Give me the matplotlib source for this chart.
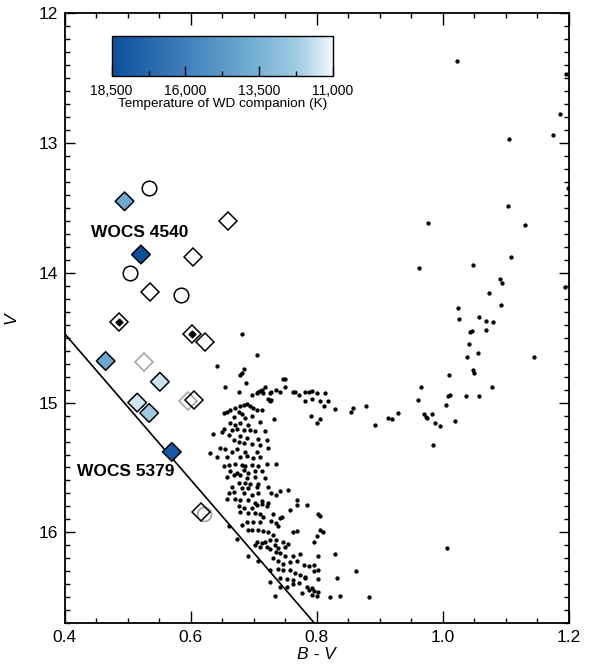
import matplotlib
matplotlib.use('Agg')
import matplotlib.pyplot as plt
from matplotlib.colors import LinearSegmentedColormap, Normalize
from matplotlib.cm import ScalarMappable
from matplotlib.ticker import MultipleLocator

plt.rcParams['font.family'] = ['Liberation Sans', 'DejaVu Sans']

# Cluster members (B-V, V)
field_bv = [
    0.682, 0.705, 0.642, 0.684, 0.681, 0.678, 0.687, 0.654, 0.750, 0.746, 0.676, 0.705,
    0.707, 0.710, 0.713, 0.718, 0.715, 0.697, 0.726, 0.728, 0.736, 0.742, 0.749, 0.763,
    0.765, 0.771, 0.781, 0.787, 0.793, 0.800, 0.813, 0.723, 0.726, 0.728, 0.781, 0.793,
    0.805, 0.818, 0.812, 0.829, 0.857, 0.855, 0.878, 0.913, 0.892, 0.790, 0.805, 0.801,
    0.732,
    # main sequence
    0.652, 0.657, 0.662, 0.670, 0.678, 0.684, 0.689, 0.694, 0.699, 0.705, 0.713, 0.676,
    0.681, 0.668, 0.686, 0.697, 0.662, 0.670, 0.678, 0.691, 0.710, 0.652, 0.665, 0.673,
    0.684, 0.694, 0.702, 0.718, 0.636, 0.649, 0.660, 0.678, 0.689, 0.707, 0.668, 0.676,
    0.684, 0.697, 0.721, 0.710, 0.647, 0.654, 0.665, 0.673, 0.686, 0.705, 0.723, 0.631,
    0.641, 0.657, 0.678, 0.689, 0.699, 0.710, 0.652, 0.660, 0.670, 0.681, 0.686, 0.697,
    0.707, 0.721, 0.736, 0.662, 0.673, 0.684, 0.691, 0.702, 0.713, 0.657, 0.668, 0.678,
    0.689, 0.702, 0.718, 0.676, 0.686, 0.694, 0.707, 0.665, 0.681, 0.691, 0.705, 0.723,
    0.660, 0.668, 0.684, 0.697, 0.707, 0.728, 0.736, 0.755, 0.657, 0.670, 0.678, 0.691,
    0.702, 0.713, 0.723, 0.742, 0.676, 0.684, 0.697, 0.705, 0.713, 0.721, 0.768, 0.768,
    0.784, 0.678, 0.691, 0.702, 0.710, 0.715, 0.731, 0.744, 0.758, 0.802, 0.805, 0.660,
    0.681, 0.689, 0.699, 0.710, 0.728, 0.736, 0.739, 0.742, 0.691, 0.697, 0.707, 0.715,
    0.723, 0.731, 0.763, 0.768, 0.805, 0.810, 0.800, 0.673, 0.705, 0.713, 0.718, 0.726,
    0.736, 0.747, 0.755, 0.795, 0.702, 0.710, 0.721, 0.734, 0.739, 0.750, 0.691, 0.707,
    0.726, 0.736, 0.742, 0.750, 0.763, 0.773, 0.802, 0.829, 0.731, 0.739, 0.747, 0.758,
    0.768, 0.779, 0.787, 0.795, 0.726, 0.739, 0.747, 0.758, 0.766, 0.773, 0.781, 0.795,
    0.802, 0.862, 0.726, 0.742, 0.752, 0.763, 0.771, 0.781, 0.784, 0.792, 0.802, 0.832,
    0.734, 0.742, 0.752, 0.763, 0.787, 0.795, 0.792, 0.800, 0.802, 0.821, 0.837, 0.883,
    0.776,
    # subgiants and giants
    0.929, 0.919, 0.961, 0.965, 0.970, 0.973, 0.974, 0.982, 0.988, 0.996, 0.984, 1.005,
    1.008, 1.012, 1.009, 1.019, 1.036, 1.057, 1.078, 1.024, 1.026, 1.092, 1.057, 1.068,
    1.079, 1.046, 1.043, 1.068, 1.041, 1.039, 1.056, 1.048, 1.050, 1.145, 1.007,
    1.023, 1.105, 1.175, 1.185, 1.195, 1.199, 1.104, 1.130, 0.976, 0.962, 1.047, 1.108,
    1.090, 1.094, 1.073, 1.193,
]
field_v = [
    14.47, 14.63, 14.72, 14.74, 14.77, 14.79, 14.85, 14.88, 14.82, 14.82, 14.92, 14.93,
    14.92, 14.91, 14.90, 14.88, 14.93, 14.94, 14.93, 14.92, 14.90, 14.92, 14.88, 14.92,
    14.92, 14.94, 14.92, 14.92, 14.91, 14.93, 14.93, 14.97, 14.99, 14.98, 14.99, 14.97,
    14.99, 14.99, 15.03, 15.05, 15.04, 15.07, 15.03, 15.12, 15.17, 15.10, 15.13, 15.16,
    15.13,
    15.08, 15.07, 15.06, 15.04, 15.03, 15.02, 15.01, 15.03, 15.04, 15.06, 15.06, 15.07,
    15.09, 15.11, 15.12, 15.10, 15.16, 15.17, 15.16, 15.17, 15.15, 15.20, 15.21, 15.20,
    15.21, 15.21, 15.22, 15.22, 15.24, 15.23, 15.25, 15.26, 15.27, 15.28, 15.29, 15.30,
    15.31, 15.32, 15.29, 15.33, 15.35, 15.36, 15.38, 15.36, 15.38, 15.38, 15.35, 15.39,
    15.42, 15.42, 15.42, 15.41, 15.43, 15.42, 15.49, 15.48, 15.47, 15.48, 15.49, 15.48,
    15.49, 15.47, 15.47, 15.53, 15.54, 15.52, 15.54, 15.53, 15.53, 15.57, 15.56, 15.56,
    15.58, 15.57, 15.58, 15.62, 15.62, 15.63, 15.63, 15.65, 15.66, 15.66, 15.65, 15.65,
    15.70, 15.69, 15.70, 15.71, 15.70, 15.70, 15.71, 15.67, 15.74, 15.74, 15.75, 15.75,
    15.77, 15.76, 15.77, 15.68, 15.80, 15.81, 15.81, 15.79, 15.78, 15.80, 15.75, 15.79,
    15.79, 15.84, 15.85, 15.85, 15.86, 15.88, 15.86, 15.88, 15.83, 15.86, 15.87, 15.95,
    15.94, 15.92, 15.92, 15.92, 15.91, 15.93, 15.95, 15.89, 15.98, 15.98, 15.98, 15.99,
    16.00, 16.02, 16.00, 15.99, 15.98, 16.00, 16.03, 16.05, 16.07, 16.08, 16.07, 16.06,
    16.06, 16.07, 16.09, 16.07, 16.10, 16.11, 16.11, 16.10, 16.12, 16.11, 16.18, 16.22,
    16.13, 16.15, 16.16, 16.18, 16.18, 16.17, 16.18, 16.17, 16.20, 16.22, 16.24, 16.23,
    16.22, 16.25, 16.26, 16.25, 16.29, 16.28, 16.29, 16.29, 16.31, 16.33, 16.34, 16.30,
    16.29, 16.30, 16.38, 16.35, 16.36, 16.37, 16.39, 16.35, 16.42, 16.43, 16.36, 16.35,
    16.49, 16.42, 16.42, 16.40, 16.44, 16.45, 16.48, 16.49, 16.46, 16.50, 16.49, 16.50,
    16.47,
    15.08, 15.13, 14.98, 14.88, 15.09, 15.11, 15.12, 15.09, 15.16, 15.18, 15.33, 15.02,
    14.95, 14.94, 14.79, 15.14, 14.95, 14.95, 14.88, 14.27, 14.36, 14.25, 14.34, 14.37,
    14.38, 14.45, 14.46, 14.44, 14.55, 14.65, 14.62, 14.75, 14.77, 14.65, 16.12,
    12.37, 12.97, 12.94, 12.78, 12.47, 13.35, 13.49, 13.63, 13.62, 13.96, 13.94, 13.88,
    14.05, 14.08, 14.16, 14.11,
]

# Blue stragglers with a WD companion, coloured by WD temperature
wd_bv = [0.495, 0.521, 0.465, 0.551, 0.515, 0.534, 0.570]
wd_v = [13.45, 13.86, 14.68, 14.84, 15.00, 15.08, 15.38]
wd_temp = [14000, 18500, 14000, 11600, 11500, 12300, 18000]

# Other blue stragglers
open_bv = [0.659, 0.604, 0.535, 0.622, 0.605, 0.616]
open_v = [13.60, 13.88, 14.15, 14.53, 14.98, 15.84]
dot_bv = [0.486, 0.602]
dot_v = [14.38, 14.47]
gray_bv = [0.526, 0.596]
gray_v = [14.69, 14.99]
circ_bv = [0.534, 0.503, 0.584]
circ_v = [13.35, 14.00, 14.17]
gcirc_bv = [0.621]
gcirc_v = [15.86]

# ZAMS-like line
line_bv = [0.40, 0.80]
line_v = [14.47, 16.72]

cbar_ticks = [18500, 16000, 13500, 11000]
cbar_labels = ['18,500', '16,000', '13,500', '11,000']

cmap = LinearSegmentedColormap.from_list(
    'wd', [(0.0, '#f3f8fc'), (0.15, '#a3cde3'), (0.333, '#78b2d6'),
           (0.667, '#3f7fbb'), (1.0, '#0b4f9c')])
norm = Normalize(vmin=11000, vmax=18500)

fig = plt.figure(figsize=(5.89, 6.67), dpi=100)
ax = fig.add_axes([0.1098, 0.0655, 0.8562, 0.915])

ax.plot(field_bv, field_v, 'o', ms=3.1, color='black', mec='none', zorder=2)
ax.plot(line_bv, line_v, '-', color='black', lw=1.2, zorder=1)

ax.plot(gcirc_bv, gcirc_v, 'o', ms=10, mfc='none', mec='#a0a0a0', mew=1.2, zorder=3)
ax.plot(gray_bv, gray_v, 'D', ms=9, mfc='none', mec='#a8a8a8', mew=1.2, zorder=3)
ax.plot(circ_bv, circ_v, 'o', ms=10.5, mfc='white', mec='black', mew=1.1, zorder=4)
ax.plot(open_bv, open_v, 'D', ms=9, mfc='none', mec='black', mew=1.1, zorder=4)
ax.plot(dot_bv, dot_v, 'D', ms=9, mfc='white', mec='black', mew=1.1, zorder=4)
ax.plot(dot_bv, dot_v, 'D', ms=3.5, color='black', zorder=5)
ax.scatter(wd_bv, wd_v, c=wd_temp, cmap=cmap, norm=norm, marker='D', s=90,
           edgecolors='black', linewidths=1.1, zorder=5)

ax.text(0.442, 13.69, 'WOCS 4540', fontsize=12.5, fontweight='bold',
        ha='left', va='center')
ax.text(0.419, 15.53, 'WOCS 5379', fontsize=12.5, fontweight='bold',
        ha='left', va='center')

ax.set_xlim(0.4, 1.2)
ax.set_ylim(16.7, 12)
ax.xaxis.set_major_locator(MultipleLocator(0.2))
ax.xaxis.set_minor_locator(MultipleLocator(0.05))
ax.yaxis.set_major_locator(MultipleLocator(1))
ax.yaxis.set_minor_locator(MultipleLocator(0.1))
ax.xaxis.set_major_formatter(plt.FormatStrFormatter('%.1f'))
ax.yaxis.set_major_formatter(plt.FormatStrFormatter('%d'))
ax.tick_params(which='both', direction='in', top=True, right=True,
               width=1.0, labelsize=12.5)
ax.tick_params(axis='x', which='major', length=8.4, pad=5)
ax.tick_params(axis='x', which='minor', length=3.6)
ax.tick_params(axis='y', which='major', length=7.2, pad=5)
ax.tick_params(axis='y', which='minor', length=3.6)
for s in ax.spines.values():
    s.set_linewidth(1.3)
ax.set_xlabel('B - V', fontsize=12.5, fontstyle='italic', labelpad=1)
ax.set_ylabel('V', fontsize=12.5, fontstyle='italic', labelpad=14)

# Colour bar for the WD temperature
cax = fig.add_axes([0.1896, 0.886, 0.3752, 0.060])
cb = fig.colorbar(ScalarMappable(norm=norm, cmap=cmap), cax=cax,
                  orientation='horizontal')
cax.invert_xaxis()
cb.set_ticks(cbar_ticks, labels=cbar_labels)
cb.set_ticks([17250, 14750, 12250], minor=True)
cax.tick_params(which='both', direction='in', top=False, width=1.0,
                labelsize=10, pad=5.5)
cax.tick_params(which='major', length=7)
cax.tick_params(which='minor', length=3.5)
cb.outline.set_linewidth(1.0)
cb.set_label('Temperature of WD companion (K)', fontsize=9.7, labelpad=0)

fig.savefig('out.png', dpi=100)
